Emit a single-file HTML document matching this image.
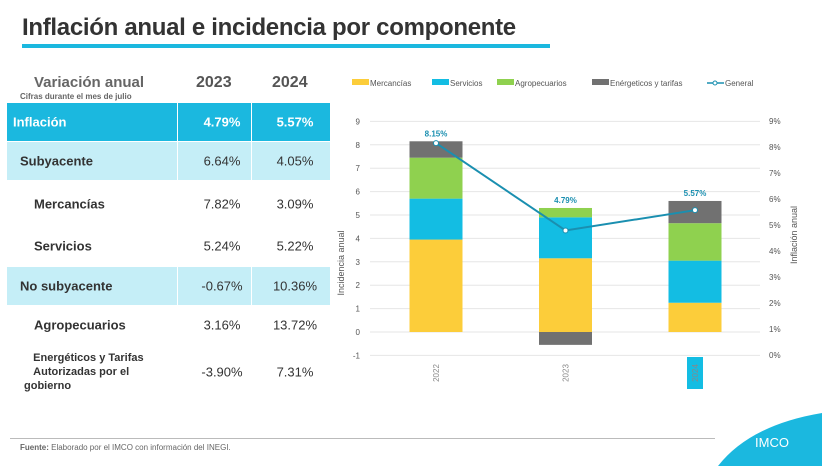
<!DOCTYPE html>
<html><head><meta charset="utf-8"><style>
body{margin:0;width:822px;height:466px;background:#fff;font-family:"Liberation Sans",sans-serif;position:relative;overflow:hidden}
.abs{position:absolute}
.row{position:absolute;left:7px;width:323px;font-weight:bold;font-size:13px;color:#333}
.row span{position:absolute;top:50%;transform:translateY(-50%)}
.c1{left:178px;width:74px;text-align:center;font-weight:normal}
.c2{left:252px;width:72px;text-align:center;font-weight:normal}
</style></head><body>
<div class="abs" style="left:22px;top:14px;font-size:24px;font-weight:bold;color:#333;letter-spacing:-0.3px">Inflación anual e incidencia por componente</div>
<div class="abs" style="left:22px;top:44px;width:528px;height:4px;background:#1bb8df"></div>

<div>
<div class="abs" style="left:34px;top:74px;font-size:15px;font-weight:bold;color:#666">Variación anual</div>
<div class="abs" style="left:20px;top:92px;font-size:8px;font-weight:bold;color:#666">Cifras durante el mes de julio</div>
<div class="abs" style="left:196px;top:74px;font-size:16px;font-weight:bold;color:#555">2023</div>
<div class="abs" style="left:272px;top:74px;font-size:16px;font-weight:bold;color:#555">2024</div>
<div class="row" style="top:103px;height:38px;background:#1bb8df;color:#fff"><span style="left:6px">Inflación</span><span class="c1" style="font-weight:bold">4.79%</span><span class="c2" style="font-weight:bold">5.57%</span></div>
<div class="row" style="top:142px;height:38px;background:#c5eef7"><span style="left:13px">Subyacente</span><span class="c1">6.64%</span><span class="c2">4.05%</span></div>
<div class="row" style="top:185px;height:38px"><span style="left:27px">Mercancías</span><span class="c1">7.82%</span><span class="c2">3.09%</span></div>
<div class="row" style="top:227px;height:38px"><span style="left:27px">Servicios</span><span class="c1">5.24%</span><span class="c2">5.22%</span></div>
<div class="row" style="top:267px;height:38px;background:#c5eef7"><span style="left:13px">No subyacente</span><span class="c1">-0.67%</span><span class="c2">10.36%</span></div>
<div class="row" style="top:306px;height:38px"><span style="left:27px">Agropecuarios</span><span class="c1">3.16%</span><span class="c2">13.72%</span></div>
<div class="row" style="top:351px;height:42px"><span style="left:17px;font-size:11px;line-height:14px">&nbsp;&nbsp;&nbsp;Energéticos y Tarifas<br>&nbsp;&nbsp;&nbsp;Autorizadas por el<br>gobierno</span><span class="c1">-3.90%</span><span class="c2">7.31%</span></div>
<div class="abs" style="left:177px;top:103px;width:1px;height:77px;background:#fff"></div>
<div class="abs" style="left:251px;top:103px;width:1px;height:77px;background:#fff"></div>
<div class="abs" style="left:177px;top:267px;width:1px;height:38px;background:#fff"></div>
<div class="abs" style="left:251px;top:267px;width:1px;height:38px;background:#fff"></div>
</div>

<svg class="abs" style="left:0;top:0" width="822" height="466" id="chart"></svg>

<div class="abs" style="left:10px;top:438px;width:705px;height:1px;background:#bbb"></div>
<div class="abs" style="left:20px;top:443px;font-size:8px;color:#666"><b>Fuente:</b> Elaborado por el IMCO con información del INEGI.</div>
<svg class="abs" style="left:700px;top:410px" width="122" height="56"><path d="M122 3 Q50 15 18 56 L122 56Z" fill="#1bb8df"/><text x="55" y="37" font-size="13" fill="#fff" font-family="Liberation Sans">IMCO</text></svg>

<script>
const years=["2022","2023","2024"];
const mercancias=[3.95,3.15,1.25];
const servicios=[1.75,1.75,1.8];
const agropecuarios=[1.75,0.4,1.6];
const energeticos=[0.7,-0.55,0.95];
const general=[8.15,4.79,5.57];
const leftTicks=[-1,0,1,2,3,4,5,6,7,8,9];
const rightTicks=[0,1,2,3,4,5,6,7,8,9];
const NS="http://www.w3.org/2000/svg";
const svg=document.getElementById('chart');
const yL=v=>332-v*23.4;
const yR=v=>355-v*26;
const xC=i=>436+i*129.5;
const bw=53;
function mk(t,a,txt){const e=document.createElementNS(NS,t);for(const k in a)e.setAttribute(k,a[k]);if(txt!==undefined)e.textContent=txt;svg.appendChild(e);return e;}
leftTicks.forEach(t=>{
 const g=mk('line',{x1:370,x2:760,y1:yL(t),y2:yL(t),stroke:'#e6e6e6','stroke-width':1});
 
 
 const l=mk('text',{x:360,y:yL(t)+3,'font-size':8,fill:'#555','text-anchor':'end'},t);
 
 
});
rightTicks.forEach(t=>{
 const l=mk('text',{x:769,y:yR(t)+3,'font-size':8,fill:'#555'},t+'%');
 
 
});
const series=[["mercancias",mercancias,"#fccd3a"],["servicios",servicios,"#13bde3"],["agropecuarios",agropecuarios,"#8fd14f"],["energeticos",energeticos,"#717171"]];
mk('rect',{x:xC(2)-8,y:357,width:16,height:32,fill:'#13bde3'});
years.forEach((y,i)=>{
 let pos=0,neg=0;
 series.forEach(([n,arr,c])=>{
  const v=arr[i];let a,b;
  if(v>=0){a=pos;b=pos+v;pos=b;}else{a=neg;b=neg+v;neg=b;}
  const r=mk('rect',{x:xC(i)-bw/2,y:Math.min(yL(a),yL(b)),width:bw,height:Math.abs(yL(a)-yL(b)),fill:c});
  
  
 });
 const t=mk('text',{x:0,y:3,'font-size':8,fill:'#888','text-anchor':'middle',transform:`translate(${xC(i)},373) rotate(-90)`},y);
 
 
});
const pts=general.map((v,i)=>xC(i)+','+yR(v)).join(' ');
const line=mk('polyline',{points:pts,fill:'none',stroke:'#1a8fb0','stroke-width':2});


general.forEach((v,i)=>{
 const c=mk('circle',{cx:xC(i),cy:yR(v),r:2.5,fill:'#fff',stroke:'#1a8fb0','stroke-width':1});
 
 
 const top=yL(mercancias[i]+servicios[i]+agropecuarios[i]+Math.max(0,energeticos[i]));
 const l=mk('text',{x:xC(i),y:top-5,'font-size':8,'font-weight':'bold',fill:'#1a8fb0','text-anchor':'middle'},v.toFixed(2)+'%');
 
 
});
const yt=mk('text',{x:0,y:0,'font-size':9,fill:'#555','text-anchor':'middle',transform:'translate(344,263) rotate(-90)'},'Incidencia anual');


const yt2=mk('text',{x:0,y:0,'font-size':9,fill:'#555','text-anchor':'middle',transform:'translate(797,235) rotate(-90)'},'Inflación anual');


const leg=[["Mercancías","#fccd3a",352],["Servicios","#13bde3",432],["Agropecuarios","#8fd14f",497],["Enérgeticos y tarifas","#717171",592]];
leg.forEach(([n,c,x])=>{
 const r=mk('rect',{x:x,y:79,width:17,height:6,fill:c});
 
 
 const t=mk('text',{x:x+18,y:86,'font-size':8,fill:'#555'},n);
 
 
});
mk('line',{x1:707,x2:724,y1:83,y2:83,stroke:'#1a8fb0','stroke-width':1.5});
mk('circle',{cx:715,cy:83,r:2,fill:'#fff',stroke:'#1a8fb0'});
const lg=mk('text',{x:725,y:86,'font-size':8,fill:'#555'},'General');


</script>
</body></html>
